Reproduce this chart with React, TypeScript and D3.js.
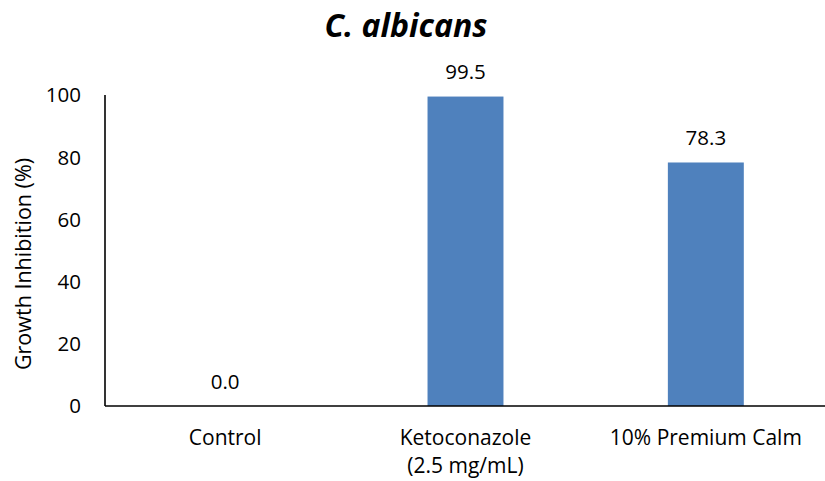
import { useEffect, useRef } from "react"
import * as d3 from "d3"

const categories = ["Control", "Ketoconazole\n(2.5 mg/mL)", "10% Premium Calm"]
const inhibition = [0.0, 99.5, 78.3]
const yTicks = [0, 20, 40, 60, 80, 100]

const FONT = "'Open Sans', 'Noto Sans', sans-serif"

export default function App() {
    const ref = useRef<SVGSVGElement | null>(null)

    useEffect(() => {
        const svg = d3.select(ref.current)
        svg.selectAll("*").remove()

        const width = 825
        const height = 481
        const left = 105
        const right = 826
        const top = 95
        const bottom = 406

        svg.attr("width", width).attr("height", height)

        const x = d3.scaleBand<number>()
            .domain(d3.range(categories.length))
            .range([left, right])
            .paddingInner(0.684)
            .paddingOuter(0.342)

        const y = d3.scaleLinear().domain([0, 100]).range([bottom, top])

        // title
        svg.append("text")
            .attr("x", 406)
            .attr("y", 37)
            .attr("text-anchor", "middle")
            .attr("font-family", FONT)
            .attr("font-size", 32)
            .attr("font-weight", 700)
            .attr("font-style", "italic")
            .text("C. albicans")

        // y tick labels
        svg.append("g")
            .selectAll("text")
            .data(yTicks)
            .join("text")
            .attr("x", 81)
            .attr("y", d => y(d))
            .attr("dy", "0.36em")
            .attr("text-anchor", "end")
            .attr("font-family", FONT)
            .attr("font-size", 20.5)
            .attr("fill", "#000")
            .text(d => d)

        // y axis title
        svg.append("text")
            .attr("transform", `translate(31,264) rotate(-90)`)
            .attr("text-anchor", "middle")
            .attr("font-family", FONT)
            .attr("font-size", 21.5)
            .text("Growth Inhibition (%)")

        // bars
        svg.append("g")
            .selectAll("rect")
            .data(inhibition)
            .join("rect")
            .attr("x", (_, i) => x(i)!)
            .attr("y", d => y(d))
            .attr("width", x.bandwidth())
            .attr("height", d => bottom - y(d))
            .attr("fill", "#4F81BD")

        // value labels
        svg.append("g")
            .selectAll("text")
            .data(inhibition)
            .join("text")
            .attr("x", (_, i) => x(i)! + x.bandwidth() / 2)
            .attr("y", d => y(d) - 17.5)
            .attr("text-anchor", "middle")
            .attr("font-family", FONT)
            .attr("font-size", 20.5)
            .text(d => d.toFixed(1))

        // axes lines
        svg.append("line")
            .attr("x1", left).attr("x2", left)
            .attr("y1", top).attr("y2", bottom)
            .attr("stroke", "#000").attr("stroke-width", 1.6)
        svg.append("line")
            .attr("x1", left).attr("x2", right)
            .attr("y1", bottom).attr("y2", bottom)
            .attr("stroke", "#000").attr("stroke-width", 1.6)

        // category labels
        const cat = svg.append("g")
            .selectAll("text")
            .data(categories)
            .join("text")
            .attr("x", (_, i) => x(i)! + x.bandwidth() / 2)
            .attr("y", 445)
            .attr("text-anchor", "middle")
            .attr("font-family", FONT)
            .attr("font-size", 21)
        cat.selectAll("tspan")
            .data(d => d.split("\n"))
            .join("tspan")
            .attr("x", function () {
                return (this as SVGTSpanElement).parentElement!.getAttribute("x")
            })
            .attr("dy", (_, i) => (i === 0 ? 0 : 28))
            .text(d => d)
    }, [])

    return <svg ref={ref} style={{ display: "block", position: "absolute", left: 0, top: 0 }} />
}
